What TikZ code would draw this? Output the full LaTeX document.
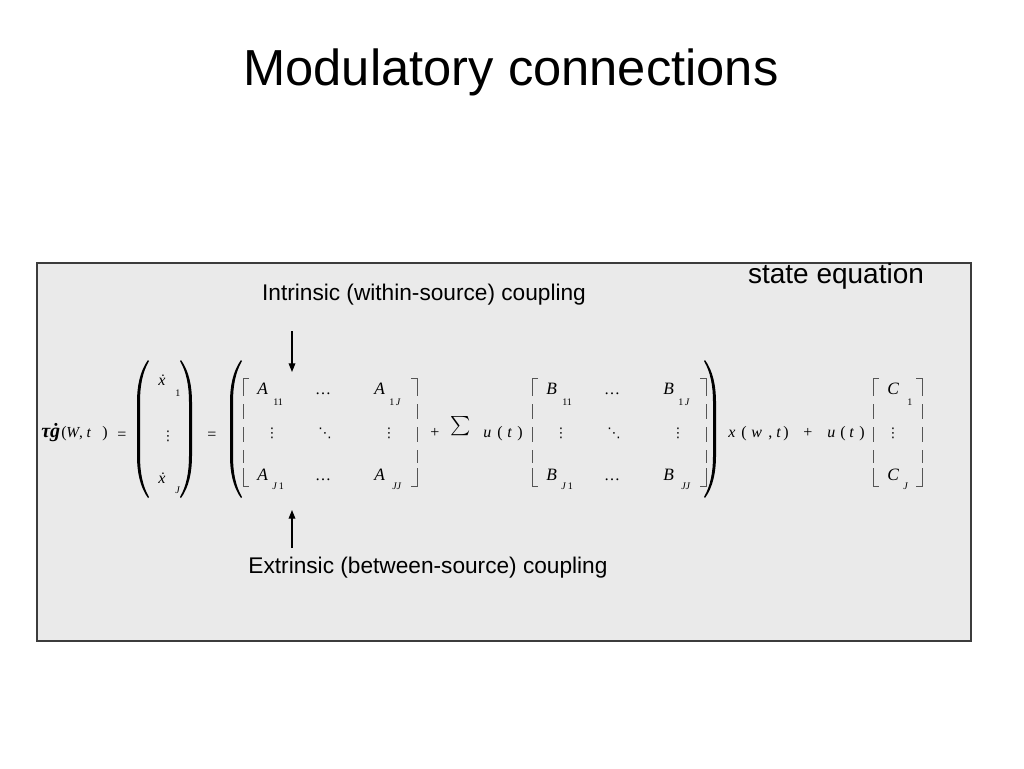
\documentclass[tikz,border=0pt]{standalone}
\usepackage{amsmath}
\usepackage{fontspec}
\setmainfont{Liberation Serif}
\setsansfont{Liberation Sans}
\newfontfamily\dotsfont{DejaVu Sans}
\usepackage{xcolor}
\usetikzlibrary{arrows.meta, positioning}
\definecolor{panel}{RGB}{234,234,234}
\definecolor{rim}{RGB}{60,60,60}
\definecolor{brkgray}{RGB}{85,85,85}

\begin{document}
\begin{tikzpicture}[x=0.75pt, y=-0.75pt,
  arrow/.style={-{Triangle[length=6.5pt, width=5pt]}, line width=0.9pt},
  note/.style={font=\sffamily\fontsize{17}{17}\selectfont, anchor=base, inner sep=0},
  ent/.style={font=\fontsize{13}{13}\selectfont\itshape, anchor=base west, inner sep=0},
  subs/.style={font=\fontsize{7.5}{7.5}\selectfont, anchor=base west, inner sep=0},
  sml/.style={font=\fontsize{12}{12}\selectfont, anchor=base west, inner sep=0},
  dts/.style={font=\dotsfont\fontsize{10}{10}\selectfont, inner sep=0},
  brk/.style={draw=brkgray, line width=0.7pt}]
  \useasboundingbox (0,0) rectangle (1024,768);

  % Title
  \node[anchor=base, inner sep=0, font=\sffamily\fontsize{38}{38}\selectfont] (title) at (511,85) {Modulatory connections};

  % Panel
  \draw[rim, fill=panel, line width=0.9pt] (37,263) rectangle (971,641);
  \node[anchor=base, inner sep=0, font=\sffamily\fontsize{21}{21}\selectfont] (state) at (836,283) {state equation};

  % Labels and arrows
  \node[note] (intr) at (424,300) {Intrinsic (within-source) coupling};
  \node[note] (extr) at (428,573) {Extrinsic (between-source) coupling};
  \coordinate (intrtail) at (292,331);
  \coordinate (intrtip) at (292,372);
  \coordinate (extrtail) at (292,548);
  \coordinate (extrtip) at (292,510);
  \draw[arrow] (intrtail) -- (intrtip);
  \draw[arrow] (extrtail) -- (extrtip);

  % Left hand side
  \node[anchor=base west, inner sep=0, font=\fontsize{15}{15}\selectfont\bfseries\itshape] (tg) at (41,437) {τġ};
  \node[sml, font=\fontsize{11.5}{12}\selectfont] (args) at (66,437) {\textit{W}, \textit{t}};
  \foreach \px/\g [count=\k] in {61/(, 102/)} \node[sml] (lhsp\k) at (\px,437) {\g};
  \node[sml, anchor=base] (eqa) at (122,439) {=};
  \node[sml, anchor=base] (eqb) at (212,439) {=};

  % Big parentheses
  \foreach \px/\s in {137/1, 192/-1, 230/1, 716/-1}
    \fill (\px+11*\s,360) .. controls (\px+3*\s,371) and (\px,386) .. (\px,402) -- (\px,456)
      .. controls (\px,472) and (\px+3*\s,487) .. (\px+11*\s,498) -- (\px+12*\s,497)
      .. controls (\px+5.5*\s,486) and (\px+3*\s,472) .. (\px+3*\s,456) -- (\px+3*\s,402)
      .. controls (\px+3*\s,386) and (\px+5.5*\s,372) .. (\px+12*\s,361) -- cycle;

  % State vector
  \node[sml, font=\fontsize{12}{12}\selectfont\itshape] (x1) at (158,385) {\.{x}};
  \node[subs] (x1s) at (175,396) {1};
  \node[dts] (xv) at (168,436) {⋮};
  \node[sml, font=\fontsize{12}{12}\selectfont\itshape] (xJ) at (158,483) {\.{x}};
  \node[subs, font=\fontsize{7.5}{7.5}\selectfont\itshape] (xJs) at (175,493) {J};

  % Square brackets
  \foreach \L/\R in {243/417, 532/706, 873/922} {
    \draw[brk] (\L+6,378) -- (\L,378) -- (\L,396);
    \draw[brk] (\L,468) -- (\L,486) -- (\L+6,486);
    \draw[brk] (\R-6,378) -- (\R,378) -- (\R,396);
    \draw[brk] (\R,468) -- (\R,486) -- (\R-6,486);
    \foreach \a/\b in {404/419, 427/442, 450/463} {
      \draw[brk] (\L,\a) -- (\L,\b);
      \draw[brk] (\R,\a) -- (\R,\b);
    }
  }

  % Coupling matrices
  \foreach \M/\dx in {A/0, B/289} {
    \node[ent] (\M-11) at (257+\dx,394) {\M};
    \node[subs] (\M-11s) at (273+\dx,405) {11};
    \node[ent] (\M-1J) at (374+\dx,394) {\M};
    \node[subs] (\M-1Js) at (389+\dx,405) {1\,\textit{J}};
    \node[ent] (\M-J1) at (257+\dx,480) {\M};
    \node[subs] (\M-J1s) at (272+\dx,489) {\textit{J}\,1};
    \node[ent] (\M-JJ) at (374+\dx,480) {\M};
    \node[subs] (\M-JJs) at (392+\dx,489) {\textit{JJ}};
    \node[sml, anchor=base] (\M-da) at (323+\dx,394) {…};
    \node[sml, anchor=base] (\M-db) at (323+\dx,480) {…};
    \node[dts] (\M-va) at (272+\dx,433) {⋮};
    \node[dts] (\M-dd) at (325+\dx,433) {⋱};
    \node[dts] (\M-vb) at (389+\dx,433) {⋮};
  }

  % Sum and inputs
  \node[sml, anchor=base] (plusa) at (435,437) {+};
  \node[inner sep=0, font=\fontsize{14}{14}\selectfont] (sum) at (461,426) {$\sum$};
  \foreach \px/\g [count=\k] in {483/u, 507/t, 728/x, 751/w, 776/t, 827/u, 849/t}
    \node[sml, font=\fontsize{12}{12}\selectfont\itshape] (in\k) at (\px,437) {\g};
  \foreach \px/\g [count=\k] in {497/(, 517/), 741/(, 768/{,}, 783/), 840/(, 859/)}
    \node[sml] (inp\k) at (\px,437) {\g};
  \node[sml, anchor=base] (plusb) at (808,437) {+};

  % Input vector
  \node[ent] (C1) at (887,394) {C};
  \node[subs] (C1s) at (907,405) {1};
  \node[dts] (Cv) at (893,433) {⋮};
  \node[ent] (CJ) at (887,480) {C};
  \node[subs, font=\fontsize{7.5}{7.5}\selectfont\itshape] (CJs) at (903,489) {J};
\end{tikzpicture}
\end{document}
